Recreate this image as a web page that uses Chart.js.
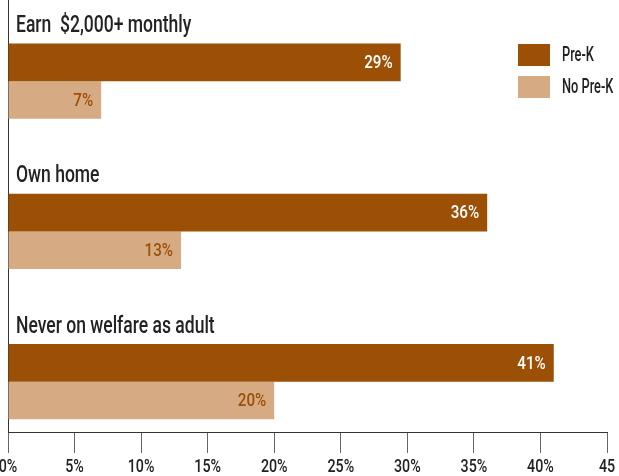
<!DOCTYPE html>
<html>
<head>
<meta charset="utf-8">
<script src="https://cdn.jsdelivr.net/npm/chart.js@4/dist/chart.umd.min.js"></script>
<style>
  html, body { margin: 0; padding: 0; background: #fff; }
  #wrap { width: 619px; height: 476px; position: relative; }
</style>
</head>
<body>
<div id="wrap"><canvas id="myChart"></canvas></div>
<script>
// chart data
const categories = ['Earn  $2,000+ monthly', 'Own home', 'Never on welfare as adult'];
const seriesNames = ['Pre-K', 'No Pre-K'];
const preK = [29.5, 36, 41];
const noPreK = [7, 13, 20];
const preKLabels = ['29%', '36%', '41%'];
const noPreKLabels = ['7%', '13%', '20%'];
const xTicks = [0, 5, 10, 15, 20, 25, 30, 35, 40, 45];

const FONT = 'Roboto, "DejaVu Sans", sans-serif';
const DARK = '#9b5006';
const LIGHT = '#d6aa83';

function toPoints(values) {
    return values.map(function (v, i) { return { x: v, y: i }; });
}

// the reference uses a condensed face, so squeeze the text horizontally
function narrowText(ctx, text, x, y, align, sx) {
    ctx.save();
    ctx.translate(x, y);
    ctx.scale(sx, 1);
    ctx.textAlign = align;
    ctx.fillText(text, 0, 0);
    ctx.restore();
}

// category titles above each pair of bars
const categoryTitles = {
    id: 'categoryTitles',
    afterDatasetsDraw: function (chart) {
        const ctx = chart.ctx;
        const yScale = chart.scales.y;
        ctx.save();
        ctx.font = '500 24px ' + FONT;
        ctx.fillStyle = '#222';
        ctx.textBaseline = 'alphabetic';
        categories.forEach(function (name, i) {
            narrowText(ctx, name, chart.chartArea.left + 8, yScale.getPixelForValue(i) - 49, 'left', 0.73);
        });
        ctx.restore();
    }
};

// value labels inside bar ends
const barValues = {
    id: 'barValues',
    afterDatasetsDraw: function (chart) {
        const ctx = chart.ctx;
        const texts = [preKLabels, noPreKLabels];
        const colors = ['#fff', DARK];
        ctx.save();
        ctx.font = '500 19px ' + FONT;
        ctx.textBaseline = 'middle';
        chart.data.datasets.forEach(function (ds, d) {
            chart.getDatasetMeta(d).data.forEach(function (bar, i) {
                ctx.fillStyle = colors[d];
                narrowText(ctx, texts[d][i], bar.x - 8, bar.y + 1, 'right', 0.8);
            });
        });
        ctx.restore();
    }
};

// x tick labels, placed with the x scale
const tickText = {
    id: 'tickText',
    afterDraw: function (chart) {
        const ctx = chart.ctx;
        const xScale = chart.scales.x;
        ctx.save();
        ctx.font = '500 19px ' + FONT;
        ctx.fillStyle = '#222';
        ctx.textBaseline = 'alphabetic';
        xScale.ticks.forEach(function (t) {
            const label = t.value === 45 ? '45' : t.value + '%';
            narrowText(ctx, label, xScale.getPixelForValue(t.value), chart.chartArea.bottom + 40, 'center', 0.75);
        });
        ctx.restore();
    }
};

// legend in the top right corner
const boxLegend = {
    id: 'boxLegend',
    afterDraw: function (chart) {
        const ctx = chart.ctx;
        ctx.save();
        ctx.font = '500 20px ' + FONT;
        ctx.textBaseline = 'middle';
        chart.data.datasets.forEach(function (ds, d) {
            const top = 44 + d * 32;
            ctx.fillStyle = ds.backgroundColor;
            ctx.fillRect(518, top, 32, 22);
            ctx.fillStyle = '#222';
            narrowText(ctx, ds.label, 562, top + 12, 'left', 0.64);
        });
        ctx.restore();
    }
};

const ctx = document.getElementById('myChart');
const barChart = new Chart(ctx, {
    type: 'bar',
    data: {
        datasets: [{
            label: seriesNames[0],
            data: toPoints(preK),
            backgroundColor: DARK,
            categoryPercentage: 0.5,
            barPercentage: 1
        }, {
            label: seriesNames[1],
            data: toPoints(noPreK),
            backgroundColor: LIGHT,
            categoryPercentage: 0.5,
            barPercentage: 1
        }]
    },
    options: {
        indexAxis: 'y',
        responsive: true,
        maintainAspectRatio: false,
        animation: false,
        layout: { padding: { left: 8, right: 12, top: 0, bottom: 0 } },
        plugins: {
            legend: { display: false },
            tooltip: { enabled: false }
        },
        scales: {
            y: {
                type: 'linear',
                reverse: true,
                bounds: 'data',
                offset: false,
                grid: { offset: false },
                min: -0.54,
                max: 2.335,
                display: false,
                afterBuildTicks: function (s) {
                    s.ticks = categories.map(function (c, i) { return { value: i }; });
                }
            },
            x: {
                type: 'linear',
                min: 0,
                max: 45,
                afterBuildTicks: function (s) {
                    s.ticks = xTicks.map(function (v) { return { value: v }; });
                },
                afterFit: function (s) {
                    s.height = 44;
                    s.paddingLeft = 0;
                    s.paddingRight = 0;
                },
                border: { display: true, color: '#333', width: 1 },
                grid: {
                    drawOnChartArea: true,
                    color: function (c) { return c.tick && c.tick.value === 0 ? '#333' : 'rgba(0,0,0,0)'; },
                    tickColor: '#666',
                    tickLength: 21,
                    tickWidth: 1
                },
                ticks: { display: false }
            }
        }
    },
    plugins: [categoryTitles, barValues, tickText, boxLegend]
});
</script>
</body>
</html>
